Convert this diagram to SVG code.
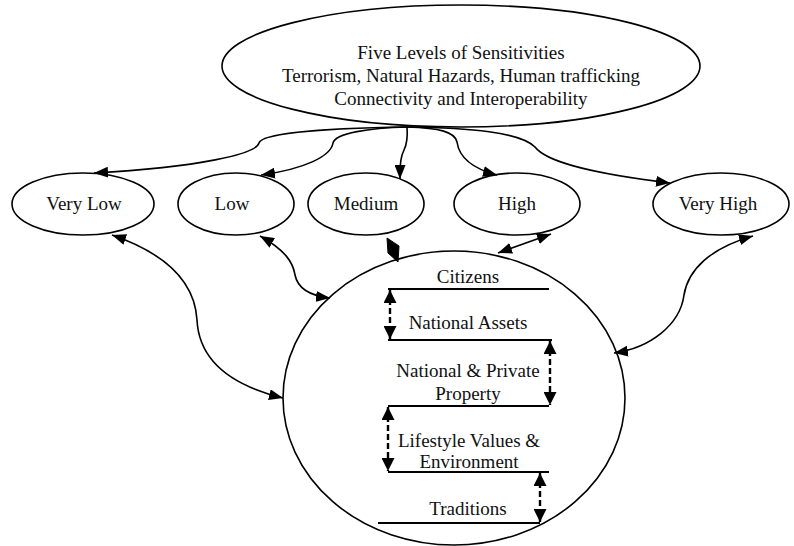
<svg xmlns="http://www.w3.org/2000/svg" width="794" height="546" viewBox="0 0 794 546">
  <style>
    .shape { fill: #fff; stroke: #000; stroke-width: 1.6; }
    .lbl { font-family: "Liberation Serif", "Times New Roman", "DejaVu Serif", serif; font-size: 19px; fill: #111; text-anchor: middle; }
    .conn { fill: none; stroke: #000; stroke-width: 1.6; }
    .tier { stroke: #000; stroke-width: 2.2; }
    .dash { fill: none; stroke: #000; stroke-width: 2.4; stroke-dasharray: 6 3; }
  </style>
  <defs>
    <marker id="ah" viewBox="0 0 14 11" refX="14" refY="5.5" markerWidth="14" markerHeight="11" markerUnits="userSpaceOnUse" orient="auto-start-reverse">
      <path d="M0,0 L14,5.5 L0,11 z" fill="#000"/>
    </marker>
    <marker id="ahs" viewBox="0 0 13 13" refX="13" refY="6.5" markerWidth="13" markerHeight="13" markerUnits="userSpaceOnUse" orient="auto-start-reverse">
      <path d="M0,0 L13,6.5 L0,13 z" fill="#000"/>
    </marker>
  </defs>

  <!-- Root node -->
  <g id="sensitivities">
    <ellipse class="shape" cx="461" cy="66" rx="239" ry="61"/>
    <text class="lbl" x="461" y="59">Five Levels of Sensitivities</text>
    <text class="lbl" x="461" y="82">Terrorism, Natural Hazards, Human trafficking</text>
    <text class="lbl" x="461" y="105">Connectivity and Interoperability</text>
  </g>

  <!-- Level nodes -->
  <g id="very-low">
    <ellipse class="shape" cx="83" cy="204" rx="71" ry="31"/>
    <text class="lbl" x="84" y="210">Very Low</text>
  </g>
  <g id="low">
    <ellipse class="shape" cx="236" cy="204" rx="58" ry="31"/>
    <text class="lbl" x="232" y="210">Low</text>
  </g>
  <g id="medium">
    <ellipse class="shape" cx="366" cy="204" rx="58" ry="31"/>
    <text class="lbl" x="366" y="210">Medium</text>
  </g>
  <g id="high">
    <ellipse class="shape" cx="517" cy="204" rx="63" ry="31"/>
    <text class="lbl" x="517" y="210">High</text>
  </g>
  <g id="very-high">
    <ellipse class="shape" cx="721" cy="204" rx="68" ry="31"/>
    <text class="lbl" x="718" y="210">Very High</text>
  </g>

  <!-- Stack of protected values -->
  <g id="national-stack">
    <ellipse class="shape" cx="454" cy="398" rx="171" ry="147"/>
    <text class="lbl" x="468" y="283">Citizens</text>
    <line class="tier" x1="388" y1="289" x2="549" y2="289"/>
    <text class="lbl" x="468" y="329">National Assets</text>
    <line class="tier" x1="388" y1="340" x2="552" y2="340"/>
    <text class="lbl" x="468" y="377">National &amp; Private</text>
    <text class="lbl" x="468" y="400">Property</text>
    <line class="tier" x1="388" y1="406" x2="549" y2="406"/>
    <text class="lbl" x="469" y="447">Lifestyle Values &amp;</text>
    <text class="lbl" x="469" y="468">Environment</text>
    <line class="tier" x1="388" y1="472" x2="549" y2="472"/>
    <text class="lbl" x="468" y="515">Traditions</text>
    <line class="tier" x1="378" y1="523" x2="540" y2="523"/>
    <path class="dash" d="M390,290 L390,339" marker-start="url(#ahs)" marker-end="url(#ahs)"/>
    <path class="dash" d="M550,341 L550,405" marker-start="url(#ahs)" marker-end="url(#ahs)"/>
    <path class="dash" d="M388,407 L388,471" marker-start="url(#ahs)" marker-end="url(#ahs)"/>
    <path class="dash" d="M540,473 L540,522" marker-start="url(#ahs)" marker-end="url(#ahs)"/>
  </g>

  <!-- Connectors -->
  <g id="connectors">
    <path class="conn" d="M407,127 C340,128 262,132 259,143 C256,154 200,167 94,173" marker-end="url(#ah)"/>
    <path class="conn" d="M407,127 C370,128 335,133 333,143 C331,156 305,169 261,175" marker-end="url(#ah)"/>
    <path class="conn" d="M407,127 C408,140 406,146 404,150 C401,156 400,162 400,179" marker-end="url(#ah)"/>
    <path class="conn" d="M407,127 C440,128 455,132 457,142 C459,156 470,168 497,175" marker-end="url(#ah)"/>
    <path class="conn" d="M407,127 C470,128 520,132 535,147 C545,160 580,172 670,183" marker-end="url(#ah)"/>

    <path class="conn" d="M112,235 C170,255 195,285 197,320 C199,360 230,385 283,398" marker-start="url(#ah)" marker-end="url(#ah)"/>
    <path class="conn" d="M260,236 C285,250 293,262 295,275 C298,290 312,296 330,298" marker-start="url(#ah)" marker-end="url(#ah)"/>
    <polygon points="387,238 399,246 398,262 388,253" fill="#000" stroke="#000" stroke-width="1"/>
    <path class="conn" d="M498,253 L551,234" marker-start="url(#ah)" marker-end="url(#ah)"/>
    <path class="conn" d="M753,236 C710,248 688,270 684,295 C680,325 650,348 614,353" marker-start="url(#ah)" marker-end="url(#ah)"/>
  </g>
</svg>
